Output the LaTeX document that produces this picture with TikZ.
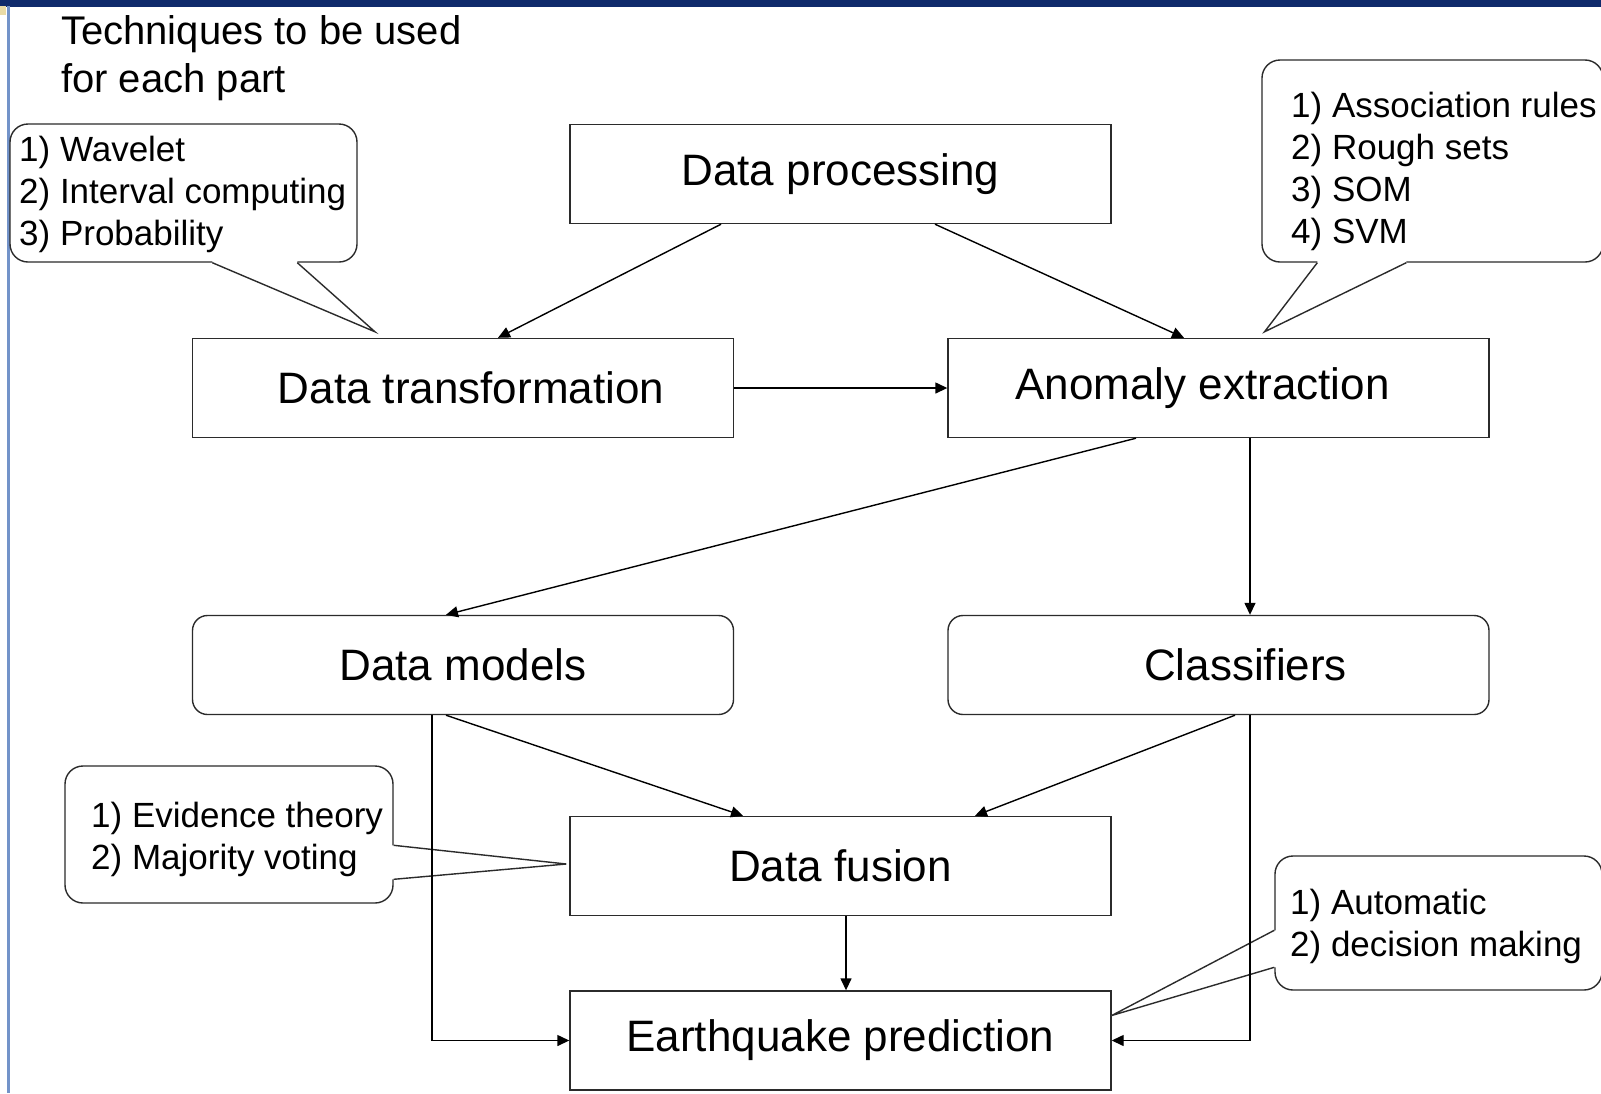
\documentclass[tikz,border=0pt]{standalone}
\usepackage{fontspec}
\setmainfont{Liberation Sans}
\usetikzlibrary{arrows.meta}

\definecolor{barblue}{HTML}{0F2A6B}
\definecolor{bargray}{HTML}{8C9099}
\definecolor{edgeblue}{HTML}{7393C9}
\definecolor{cornerbeige}{HTML}{EADBA6}
\definecolor{boxline}{HTML}{2B2B2B}

\begin{document}
\begin{tikzpicture}[x=1pt,y=-1pt,
  box/.style={draw=boxline,line width=1.4pt,minimum width=541pt,minimum height=99pt,inner sep=0pt,font=\fontsize{44}{52}\selectfont},
  rbox/.style={box,rounded corners=15pt},
  callout/.style={draw=boxline,line width=1.4pt,rounded corners=18pt,fill=white,inner sep=0pt},
  note/.style={anchor=west,align=left,inner sep=0pt,font=\fontsize{35}{42}\selectfont},
  arr/.style={line width=1.4pt,-{Triangle[length=12pt,width=11pt]}}]

\useasboundingbox (0,0) rectangle (1601,1093);
\fill[white] (0,0) rectangle (1601,1093);

% slide frame
\shade[left color=barblue,middle color=bargray,right color=barblue] (0,0) rectangle (1601,6);
\fill[cornerbeige] (0,6) rectangle (6,15);
\fill[edgeblue] (7,6) rectangle (9.5,1093);

\node[anchor=west,align=left,inner sep=0pt,font=\fontsize{40}{48}\selectfont] (title) at (61,58) {Techniques to be used\\for each part};

\begin{scope}

\node[box] (dproc) at (840.5,174) {Data processing};
\node[box] (dtrans) at (463,388) {\hspace*{16pt}Data transformation};
\node[box] (anomaly) at (1218.5,388) {Anomaly extraction\hspace*{32pt}};
\node[rbox] (dmodels) at (463,665) {Data models};
\node[rbox] (classif) at (1218.5,665) {\hspace*{54pt}Classifiers};
\node[box] (dfusion) at (840.5,866) {Data fusion};
\node[box] (quake) at (840.5,1040.5) {Earthquake prediction};

% callouts
\node[callout,minimum width=347pt,minimum height=138pt] (wavebox) at (183.5,193) {};
\node[note] (wavetext) at (19,194) {1) Wavelet\\2) Interval computing\\3) Probability};
\coordinate (wave1) at ([xshift=203pt]wavebox.south west);
\coordinate (wave2) at ([xshift=288pt]wavebox.south west);
\coordinate (wavetip) at ([xshift=-88pt,yshift=6pt]dtrans.north);
\fill[white] ([yshift=2pt]wave1) -- (wave1) -- (wavetip) -- (wave2) -- ([yshift=2pt]wave2) -- cycle;
\draw[boxline,line width=1.4pt] (wave1) -- (wavetip) -- (wave2);

\node[callout,minimum width=341pt,minimum height=202pt] (assocbox) at (1432.5,161) {};
\node[note] (assoctext) at (1291,171) {1) Association rules\\2) Rough sets\\3) SOM\\4) SVM};
\coordinate (assoc1) at ([xshift=56pt]assocbox.south west);
\coordinate (assoc2) at ([xshift=145pt]assocbox.south west);
\coordinate (assoctip) at ([xshift=46pt,yshift=6pt]anomaly.north);
\fill[white] ([yshift=2pt]assoc1) -- (assoc1) -- (assoctip) -- (assoc2) -- ([yshift=2pt]assoc2) -- cycle;
\draw[boxline,line width=1.4pt] (assoc1) -- (assoctip) -- (assoc2);

\node[callout,minimum width=328pt,minimum height=137pt] (evidbox) at (229,834.5) {};
\node[note] (evidtext) at (91,839) {1) Evidence theory\\2) Majority voting};
\coordinate (evid1) at ([yshift=-80pt]evidbox.north east);
\coordinate (evid2) at ([yshift=-114pt]evidbox.north east);
\coordinate (evidtip) at ([xshift=-3pt,yshift=2pt]dfusion.west);
\fill[white] ([xshift=-2pt]evid1) -- (evid1) -- (evidtip) -- (evid2) -- ([xshift=-2pt]evid2) -- cycle;
\draw[boxline,line width=1.4pt] (evid1) -- (evidtip) -- (evid2);

\node[callout,minimum width=327pt,minimum height=134pt] (autobox) at (1438.5,923) {};
\node[note] (autotext) at (1290,926) {1) Automatic\\2) decision making};
\coordinate (auto1) at ([yshift=-75pt]autobox.north west);
\coordinate (auto2) at ([yshift=-112pt]autobox.north west);
\coordinate (autotip) at ([yshift=25pt]quake.east);
\fill[white] ([xshift=2pt]auto1) -- (auto1) -- (autotip) -- (auto2) -- ([xshift=2pt]auto2) -- cycle;
\draw[boxline,line width=1.4pt] (auto1) -- (autotip) -- (auto2);

% flow
\draw[arr] ([xshift=-119.5pt]dproc.south) -- ([xshift=35pt]dtrans.north);
\draw[arr] ([xshift=94.5pt]dproc.south) -- ([xshift=-34.5pt]anomaly.north);
\draw[arr] (dtrans.east) -- (anomaly.west);
\draw[arr] ([xshift=-82.5pt]anomaly.south) -- ([xshift=-17pt]dmodels.north);
\draw[arr] ([xshift=31.5pt]anomaly.south) -- ([xshift=31.5pt]classif.north);
\draw[arr] ([xshift=-17pt]dmodels.south) -- ([xshift=-97.5pt]dfusion.north);
\draw[arr] ([xshift=16.5pt]classif.south) -- ([xshift=134.5pt]dfusion.north);
\draw[arr] ([xshift=5.5pt]dfusion.south) -- ([xshift=5.5pt]quake.north);
\draw[arr] ([xshift=-31pt]dmodels.south) |- (quake.west);
\draw[arr] ([xshift=31.5pt]classif.south) |- (quake.east);

\end{scope}

\end{tikzpicture}
\end{document}
